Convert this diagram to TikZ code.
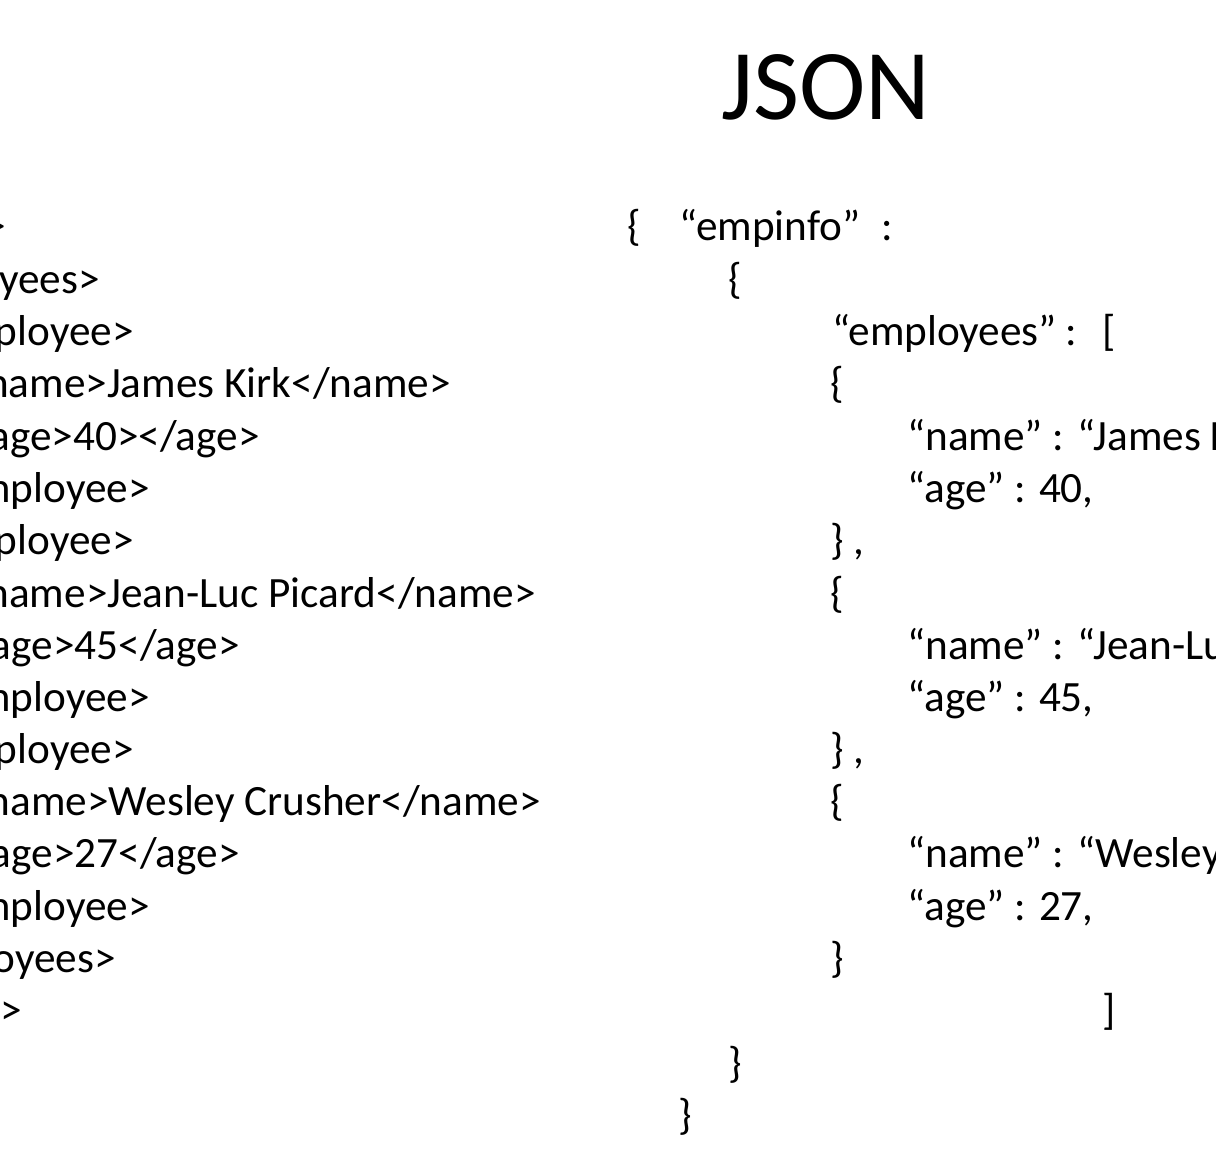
\documentclass[tikz,border=0pt]{standalone}
\usepackage{fontspec}
\setmainfont{Carlito}
\tikzset{
  txt/.style={inner sep=0pt, font=\fontsize{24.6}{30}\selectfont},
  xmlline/.style={txt, anchor=base east},
  jsonline/.style={txt, anchor=base west}
}
\begin{document}
\begin{tikzpicture}[x=0.02cm,y=-0.02cm]
  \useasboundingbox (0,0) rectangle (1216,1164);
  \clip (0,0) rectangle (1216,1164);
  % Title
  \node [inner sep=0pt, anchor=base, font=\fontsize{57}{66}\selectfont] (title) at (826,119) {JSON};
  % XML side (cut by the left edge)
  \node [xmlline] (x1)  at (6,240)   {<empinfo>};
  \node [xmlline] (x2)  at (100,293) {<employees>};
  \node [xmlline] (x3)  at (134,345) {<employee>};
  \node [xmlline] (x4)  at (451,397) {<name>James Kirk</name>};
  \node [xmlline] (x5)  at (260,450) {<age>40></age>};
  \node [xmlline] (x6)  at (150,502) {</employee>};
  \node [xmlline] (x7)  at (134,554) {<employee>};
  \node [xmlline] (x8)  at (536,607) {<name>Jean-Luc Picard</name>};
  \node [xmlline] (x9)  at (240,659) {<age>45</age>};
  \node [xmlline] (x10) at (150,711) {</employee>};
  \node [xmlline] (x11) at (134,763) {<employee>};
  \node [xmlline] (x12) at (541,815) {<name>Wesley Crusher</name>};
  \node [xmlline] (x13) at (240,867) {<age>27</age>};
  \node [xmlline] (x14) at (150,920) {</employee>};
  \node [xmlline] (x15) at (116,972) {</employees>};
  \node [xmlline] (x16) at (22,1024) {</empinfo>};
  % JSON side (cut by the right edge)
  \node [jsonline] (j1)  at (627,240)  {\{\hspace{0.9em}“empinfo”\hspace{0.5em}:};
  \node [jsonline] (j2)  at (728,293)  {\{};
  \node [jsonline] (j3)  at (832,345)  {“employees”\hspace{0.2em}:\hspace{0.6em}[};
  \node [jsonline] (j4)  at (830,397)  {\{};
  \node [jsonline] (j5)  at (907,450)  {“name” : “James Kirk”,};
  \node [jsonline] (j6)  at (907,502)  {“age” : 40,};
  \node [jsonline] (j7)  at (830,554)  {\} ,};
  \node [jsonline] (j8)  at (830,607)  {\{};
  \node [jsonline] (j9)  at (907,659)  {“name” : “Jean-Luc Picard”,};
  \node [jsonline] (j10) at (907,711)  {“age” : 45,};
  \node [jsonline] (j11) at (830,763)  {\} ,};
  \node [jsonline] (j12) at (830,815)  {\{};
  \node [jsonline] (j13) at (907,867)  {“name” : “Wesley Crusher”,};
  \node [jsonline] (j14) at (907,920)  {“age” : 27,};
  \node [jsonline] (j15) at (830,972)  {\}};
  \node [jsonline] (j16) at (1102,1024) {]};
  \node [jsonline] (j17) at (728,1077) {\}};
  \node [jsonline] (j18) at (678,1129) {\}};
\end{tikzpicture}
\end{document}
